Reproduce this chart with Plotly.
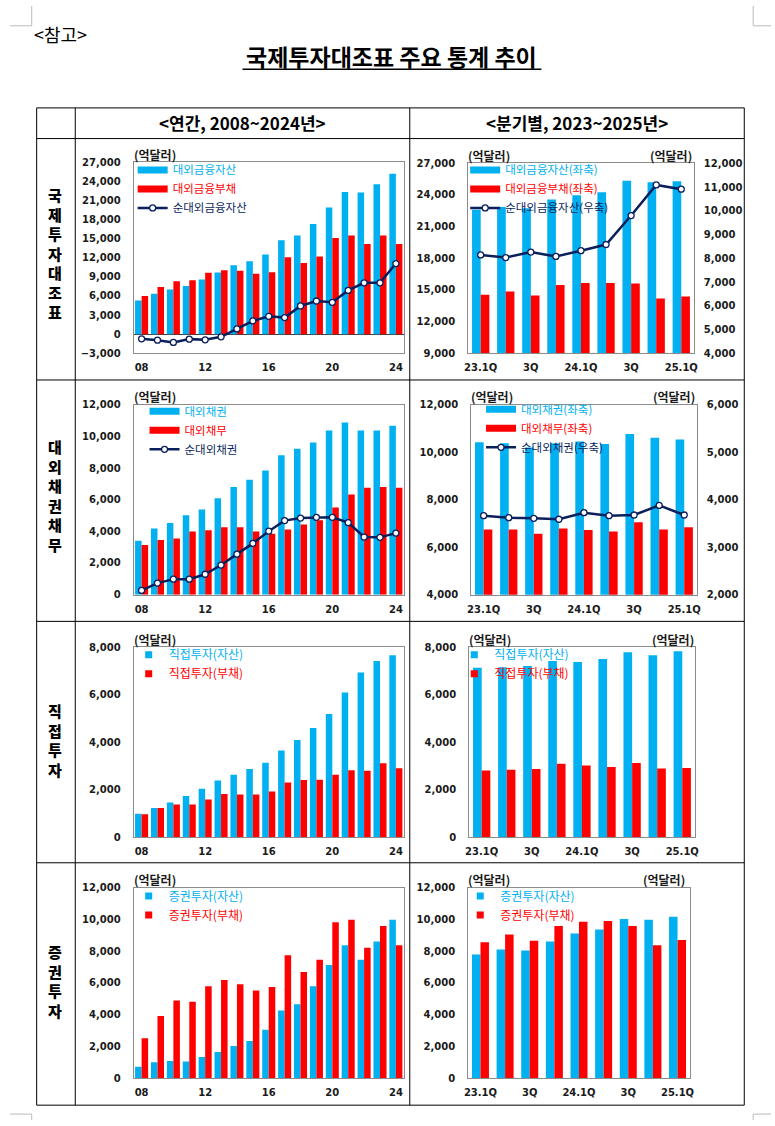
import plotly.graph_objects as go

W, H = 775, 1126

# ---------------- data ----------------
years = ["08", "09", "10", "11", "12", "13", "14", "15", "16",
         "17", "18", "19", "20", "21", "22", "23", "24"]
year_ticks = ["08", "12", "16", "20", "24"]
quarters = ["23.1Q", "23.2Q", "23.3Q", "23.4Q", "24.1Q",
            "24.2Q", "24.3Q", "24.4Q", "25.1Q"]
quarter_tickvals = ["23.1Q", "23.3Q", "24.1Q", "24.3Q", "25.1Q"]
quarter_ticktext = ["23.1Q", "3Q", "24.1Q", "3Q", "25.1Q"]

# 국제투자대조표 (annual)
fin_assets = [5300, 6350, 7030, 7550, 8590, 9690, 10830, 11460, 12500,
              14740, 15520, 17290, 19900, 22340, 22240, 23540, 25210]
fin_liab = [5990, 7400, 8330, 8490, 9640, 10050, 9950, 9480, 9740,
            12080, 11200, 12190, 15100, 15520, 14170, 15520, 14170]
fin_net = [-730, -940, -1300, -780, -885, -420, 830, 2080, 2810,
           2600, 4430, 5210, 5000, 6875, 8070, 8070, 11090]
# 국제투자대조표 (quarterly)
q_fin_assets = [22610, 22860, 22740, 23560, 23970, 24260, 25350, 25200, 25290]
q_fin_liab = [14545, 14860, 14480, 15480, 15670, 15670, 15600, 14200, 14390]
q_fin_net = [8140, 8030, 8260, 8080, 8320, 8580, 9800, 11090, 10910]

# 대외채권채무 (annual)
claims = [3410, 4180, 4530, 5010, 5385, 6090, 6800, 7255, 7840,
          8815, 9210, 9605, 10375, 10873, 10375, 10375, 10665]
debts = [3140, 3450, 3555, 3990, 4075, 4260, 4260, 3990, 3845,
         4115, 4430, 4700, 5510, 6320, 6760, 6800, 6760]
net_claims = [270, 730, 980, 980, 1290, 1870, 2560, 3240, 4010,
              4680, 4840, 4885, 4885, 4550, 3640, 3620, 3890]
# 대외채권채무 (quarterly)
q_claims = [10420, 10380, 10200, 10380, 10450, 10350, 10770, 10610, 10530]
q_debts = [6745, 6745, 6565, 6785, 6720, 6660, 7050, 6745, 6840]
q_net_claims = [3664, 3622, 3608, 3588, 3726, 3664, 3678, 3880, 3678]

# 직접투자
di_assets = [985, 1220, 1456, 1733, 2038, 2385, 2620, 2870, 3133,
             3646, 4090, 4589, 5186, 6087, 6933, 7418, 7653]
di_liab = [957, 1220, 1373, 1373, 1580, 1816, 1789, 1789, 1913,
           2302, 2399, 2412, 2620, 2815, 2787, 3106, 2898]
q_di_assets = [7127, 7150, 7200, 7418, 7376, 7500, 7778, 7653, 7820]
q_di_liab = [2800, 2829, 2870, 3092, 3009, 2953, 3120, 2884, 2912]

# 증권투자
pi_assets = [729, 1021, 1104, 1063, 1354, 1667, 2042, 2354, 3063,
             4271, 4667, 5792, 7125, 8375, 7458, 8604, 9979]
pi_liab = [2521, 3917, 4896, 4813, 5792, 6188, 5917, 5521, 5750,
           7750, 6688, 7458, 9813, 9979, 8208, 9583, 8375]
q_pi_assets = [7792, 8104, 8042, 8604, 9104, 9354, 10021, 9979, 10167]
q_pi_liab = [8563, 9042, 8646, 9583, 9854, 9896, 9583, 8375, 8708]

row_labels = ["국제투자대조표", "대외채권채무", "직접투자", "증권투자"]

# ---------------- style ----------------
BLUE = "#00B0F0"
RED = "#FF0000"
NAVY = "#0B1F5C"
FRAME = "#8C8C8C"
INK = "#1A1A1A"
KFONT = "Noto Sans CJK KR"
TICKFONT = dict(family="DejaVu Sans", size=10, color=INK, weight="bold")


def fx(px):
    return px / W


def fy(py):
    return 1 - py / H


def cspan(color, text):
    return f'<span style="color:{color}">{text}</span>'


fig = go.Figure()
layout = {}
annotations = []
shapes = []

right_axis_counter = [8]


def add_panel(i, frame, annual, yrange, ydtick, bar_a, bar_l, names,
              line=None, line_name=None, right=None, legend_xy=(0, 0),
              square_legend=False, units_right=None, legend_size=11.5):
    xa = "xaxis" if i == 1 else f"xaxis{i}"
    ya = "yaxis" if i == 1 else f"yaxis{i}"
    xr = "x" if i == 1 else f"x{i}"
    yr = "y" if i == 1 else f"y{i}"
    lg = "legend" if i == 1 else f"legend{i}"
    x0, x1, y0, y1 = frame
    cats = years if annual else quarters
    tv = year_ticks if annual else quarter_tickvals
    tt = year_ticks if annual else quarter_ticktext
    bw = 0.41 if annual else 0.345

    layout[xa] = dict(domain=[fx(x0), fx(x1)], anchor=yr, type="category",
                      categoryorder="array", categoryarray=cats,
                      range=[-0.5, len(cats) - 0.5],
                      tickmode="array", tickvals=tv, ticktext=tt,
                      showline=True, mirror=True, linecolor=FRAME, linewidth=1,
                      ticks="", tickfont=TICKFONT, showgrid=False,
                      zeroline=False, fixedrange=True, ticklabelstandoff=5)
    layout[ya] = dict(domain=[fy(y1), fy(y0)], anchor=xr, range=yrange,
                      dtick=ydtick, tickformat=",", showline=True, mirror=True,
                      linecolor=FRAME, linewidth=1, showgrid=False,
                      zeroline=yrange[0] < 0, zerolinecolor="#404040",
                      zerolinewidth=1, ticks="", tickfont=TICKFONT,
                      ticklabelstandoff=10, fixedrange=True)

    fig.add_trace(go.Bar(x=cats, y=bar_a, marker=dict(color=BLUE, line=dict(width=0)),
                         width=bw, offset=-bw, xaxis=xr, yaxis=yr,
                         showlegend=False, hoverinfo="skip"))
    fig.add_trace(go.Bar(x=cats, y=bar_l, marker=dict(color=RED, line=dict(width=0)),
                         width=bw, offset=0, xaxis=xr, yaxis=yr,
                         showlegend=False, hoverinfo="skip"))

    # legend entries
    for col, nm in ((BLUE, names[0]), (RED, names[1])):
        if square_legend:
            fig.add_trace(go.Scatter(x=[None], y=[None], mode="markers",
                                     marker=dict(symbol="square", size=7, color=col),
                                     name=cspan(col, nm), legend=lg,
                                     xaxis=xr, yaxis=yr))
        else:
            fig.add_trace(go.Scatter(x=[None], y=[None], mode="lines",
                                     line=dict(color=col, width=7),
                                     name=cspan(col, nm), legend=lg,
                                     xaxis=xr, yaxis=yr))

    ly = yr
    if right is not None:
        right_axis_counter[0] += 1
        k = right_axis_counter[0]
        ly = f"y{k}"
        layout[f"yaxis{k}"] = dict(overlaying=yr, anchor=xr, side="right",
                                   range=right[0], dtick=right[1],
                                   tickformat=",", showgrid=False,
                                   zeroline=False, showline=False, ticks="",
                                   tickfont=TICKFONT, ticklabelstandoff=9,
                                   fixedrange=True)
    if line is not None:
        fig.add_trace(go.Scatter(x=cats, y=line, mode="lines+markers",
                                 line=dict(color=NAVY, width=2.5),
                                 marker=dict(symbol="circle", size=6, color="white",
                                             line=dict(color=NAVY, width=1.3)),
                                 name=cspan(NAVY, line_name), legend=lg,
                                 xaxis=xr, yaxis=ly, hoverinfo="skip"))

    layout[lg] = dict(x=fx(legend_xy[0]), y=fy(legend_xy[1]),
                      xanchor="left", yanchor="top",
                      bgcolor="rgba(0,0,0,0)", borderwidth=0,
                      font=dict(family=KFONT, size=legend_size, color=INK),
                      itemwidth=30, tracegroupgap=0, itemclick=False,
                      itemdoubleclick=False)

    # unit labels
    annotations.append(dict(text="(억달러)", x=fx(x0 - 2), y=fy(y0 - 8),
                            xref="paper", yref="paper", xanchor="left",
                            yanchor="middle", showarrow=False,
                            font=dict(family=KFONT, size=12, color=INK, weight="bold")))
    if units_right is not None:
        annotations.append(dict(text="(억달러)", x=fx(units_right), y=fy(y0 - 8),
                                xref="paper", yref="paper", xanchor="right",
                                yanchor="middle", showarrow=False,
                                font=dict(family=KFONT, size=12, color=INK, weight="bold")))


# Row 1
add_panel(1, (131, 404, 158, 351), True, [-3000, 27000], 3000,
          fin_assets, fin_liab, ("대외금융자산", "대외금융부채"),
          line=fin_net, line_name="순대외금융자산", legend_xy=(130, 151))
add_panel(2, (469, 697, 159, 351), False, [9000, 27000], 3000,
          q_fin_assets, q_fin_liab, ("대외금융자산(좌축)", "대외금융부채(좌축)"),
          line=q_fin_net, line_name="순대외금융자산(우축)",
          right=([4000, 12000], 1000), legend_xy=(466, 151), units_right=697)
# Row 2
add_panel(3, (131, 404, 403, 595), True, [0, 12000], 2000,
          claims, debts, ("대외채권", "대외채무"),
          line=net_claims, line_name="순대외채권", legend_xy=(142, 395))
add_panel(4, (472, 700, 403, 595), False, [4000, 12000], 2000,
          q_claims, q_debts, ("대외채권(좌축)", "대외채무(좌축)"),
          line=q_net_claims, line_name="순대외채권(우축)",
          right=([2000, 6000], 1000), legend_xy=(482, 393), units_right=700)
# Row 3
add_panel(5, (131, 404, 648, 840), True, [0, 8000], 2000,
          di_assets, di_liab, ("직접투자(자산)", "직접투자(부채)"),
          legend_xy=(126, 641), square_legend=True, legend_size=12)
add_panel(6, (470, 698, 648, 840), False, [0, 8000], 2000,
          q_di_assets, q_di_liab, ("직접투자(자산)", "직접투자(부채)"),
          right=([0, 8000], 2000), legend_xy=(455, 641), square_legend=True,
          units_right=699, legend_size=12)
# Row 4
add_panel(7, (131, 404, 891, 1084), True, [0, 12000], 2000,
          pi_assets, pi_liab, ("증권투자(자산)", "증권투자(부채)"),
          legend_xy=(126, 885), square_legend=True, legend_size=12)
add_panel(8, (469, 693, 891, 1084), False, [0, 12000], 2000,
          q_pi_assets, q_pi_liab, ("증권투자(자산)", "증권투자(부채)"),
          right=([0, 12000], 2000), legend_xy=(461, 885), square_legend=True,
          units_right=690, legend_size=12)

# ---------------- page text ----------------
annotations.append(dict(text="&lt;참고&gt;", x=fx(28), y=fy(28), xref="paper",
                        yref="paper", xanchor="left", yanchor="middle",
                        showarrow=False,
                        font=dict(family=KFONT, size=18, color="#000000")))
annotations.append(dict(text="국제투자대조표 주요 통계 추이", x=fx(392), y=fy(51),
                        xref="paper", yref="paper", xanchor="center",
                        yanchor="middle", showarrow=False,
                        font=dict(family=KFONT, size=23, color="#000000", weight="bold")))
annotations.append(dict(text="&lt;연간, 2008~2024년&gt;", x=fx(241), y=fy(118),
                        xref="paper", yref="paper", xanchor="center",
                        yanchor="middle", showarrow=False,
                        font=dict(family=KFONT, size=17, color="#000000", weight="bold")))
annotations.append(dict(text="&lt;분기별, 2023~2025년&gt;", x=fx(579), y=fy(118),
                        xref="paper", yref="paper", xanchor="center",
                        yanchor="middle", showarrow=False,
                        font=dict(family=KFONT, size=17, color="#000000", weight="bold")))

# vertical row labels (one character per line)
row_centers = [250, 495, 742, 985]
for lab, cy in zip(row_labels, row_centers):
    annotations.append(dict(text="<br>".join(list(lab)), x=fx(52), y=fy(cy),
                            xref="paper", yref="paper", xanchor="center",
                            yanchor="middle", showarrow=False,
                            font=dict(family=KFONT, size=15, color="#000000",
                                      weight=900)))


# ---------------- table lines ----------------
def rule(x0, y0, x1, y1, color="#000000", width=1):
    shapes.append(dict(type="line", xref="paper", yref="paper",
                       x0=fx(x0), y0=fy(y0), x1=fx(x1), y1=fy(y1),
                       line=dict(color=color, width=width)))


rule(33, 103, 748, 103)
rule(33, 1111, 748, 1111)
rule(33, 103, 33, 1111)
rule(748, 103, 748, 1111)
rule(72, 103, 72, 1111)
rule(410, 103, 410, 1111)
for yy in (134, 378, 622, 866):
    rule(33, yy, 748, yy)
# title underline
rule(241, 64, 543, 64, width=1.5)
# page corner marks
rule(28, 0, 28, 20, color="#BBBBBB")
rule(6, 20, 28, 20, color="#BBBBBB")
rule(757, 0, 757, 20, color="#BBBBBB")
rule(757, 20, 775, 20, color="#BBBBBB")
rule(28, 1120, 28, 1126, color="#BBBBBB")
rule(6, 1120, 28, 1120, color="#BBBBBB")
rule(757, 1120, 757, 1126, color="#BBBBBB")
rule(757, 1120, 775, 1120, color="#BBBBBB")

fig.update_layout(**layout)
fig.update_layout(width=W, height=H, margin=dict(l=0, r=0, t=0, b=0),
                  paper_bgcolor="white", plot_bgcolor="white",
                  barmode="overlay", showlegend=True,
                  annotations=annotations, shapes=shapes,
                  font=dict(family=KFONT, color=INK))

fig.write_html("out.html",
               config={"displayModeBar": False},
               post_script="document.body.style.margin='0px';"
                           "document.body.style.overflow='hidden';")
